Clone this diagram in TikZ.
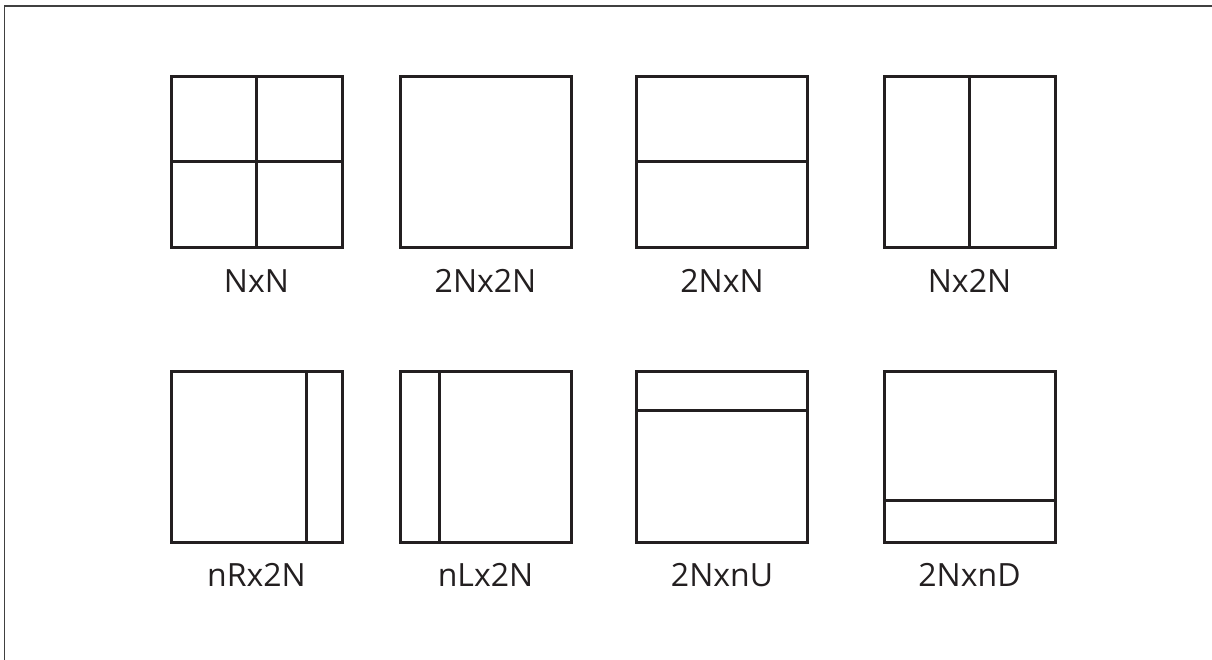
\documentclass[tikz,border=0pt]{standalone}
\usepackage{fontspec}
\setmainfont{Open Sans}
\usetikzlibrary{calc}
\definecolor{ink}{HTML}{231F20}
\tikzset{blk/.style={draw=ink,line width=3pt,minimum size=171pt,inner sep=0pt,outer sep=0pt},
         part/.style={draw=ink,line width=3pt},
         lbl/.style={anchor=base,text=ink,font=\fontsize{32}{36}\selectfont},
         frame/.style={draw=black!75,line width=1.3pt}}

\begin{document}
\begin{tikzpicture}[x=1pt,y=-1pt]
  \useasboundingbox (0,0) rectangle (1212,660);
  \draw[frame] (4.5,660)--(4.5,6)--(1212,6);
  % top row
  \node[blk] (nn) at (256.5,162) {};
  \node[blk] (dd) at (485.5,162) {};
  \node[blk] (dn) at (722,162) {};
  \node[blk] (nd) at (969.5,162) {};
  \draw[part] (nn.north)--(nn.south); \draw[part] (nn.west)--(nn.east);
  \draw[part] (dn.west)--(dn.east);
  \draw[part] (nd.north)--(nd.south);
  \node[lbl] (nnl) at (256.5,292) {NxN};
  \node[lbl] (ddl) at (485.5,292) {2Nx2N};
  \node[lbl] (dnl) at (722,292) {2NxN};
  \node[lbl] (ndl) at (969.5,292) {Nx2N};
  % bottom row
  \node[blk] (nr) at (256.5,456.5) {};
  \node[blk] (nl) at (485.5,456.5) {};
  \node[blk] (nu) at (722,456.5) {};
  \node[blk] (ndn) at (969.5,456.5) {};
  \draw[part] ($(nr.north west)!.79!(nr.north east)$)--($(nr.south west)!.79!(nr.south east)$);
  \draw[part] ($(nl.north west)!.23!(nl.north east)$)--($(nl.south west)!.23!(nl.south east)$);
  \draw[part] ($(nu.north west)!.23!(nu.south west)$)--($(nu.north east)!.23!(nu.south east)$);
  \draw[part] ($(ndn.north west)!.76!(ndn.south west)$)--($(ndn.north east)!.76!(ndn.south east)$);
  \node[lbl] (nrl) at (256.5,586) {nRx2N};
  \node[lbl] (nll) at (485.5,586) {nLx2N};
  \node[lbl] (nul) at (722,586) {2NxnU};
  \node[lbl] (ndnl) at (969.5,586) {2NxnD};
\end{tikzpicture}
\end{document}
